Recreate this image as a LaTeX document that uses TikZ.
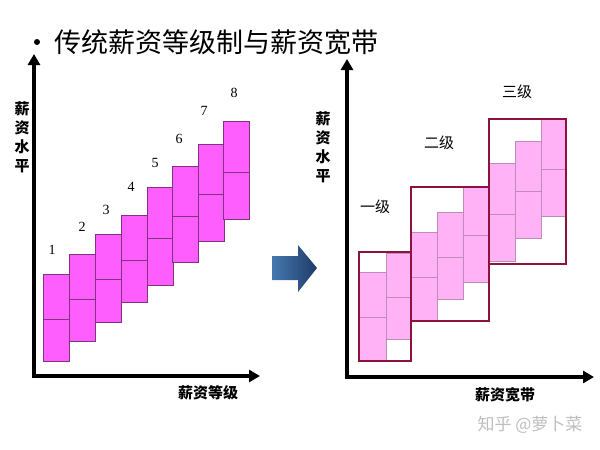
\documentclass[tikz,border=0pt]{standalone}
\usepackage{fontspec}
\newfontfamily\cjk{Noto Sans CJK SC}
\setmainfont{Liberation Serif}
\usetikzlibrary{arrows.meta}
\definecolor{lmag}{RGB}{255,94,255}
\definecolor{lmagb}{RGB}{130,50,130}
\definecolor{rpink}{RGB}{255,178,245}
\definecolor{rpinkb}{RGB}{190,140,185}
\definecolor{bandc}{RGB}{140,20,60}
\definecolor{wm}{RGB}{190,190,190}
\tikzset{
  axisline/.style={line width=3.6pt,-{Triangle[length=11pt,width=12pt]}},
  lcell/.style={fill=lmag,draw=lmagb,line width=0.7pt},
  rcell/.style={fill=rpink,draw=rpinkb,line width=0.7pt},
  band/.style={draw=bandc,line width=2pt},
  num/.style={font=\fontsize{14}{14}\selectfont,inner sep=0pt},
  lab/.style={font=\cjk\bfseries\fontsize{15}{15}\selectfont,inner sep=0pt},
  vlab/.style={font=\cjk\bfseries\fontsize{15}{19}\selectfont,inner sep=0pt,align=center},
}
\begin{document}
\begin{tikzpicture}[x=1pt,y=-1pt]
\useasboundingbox (0,0) rectangle (600,450);
% title
\fill (37,42) circle (3pt);
\node[anchor=west,inner sep=0pt,font=\cjk\fontsize{27}{27}\selectfont] (title) at (54,42) {传统薪资等级制与薪资宽带};
% left chart cells
\foreach \x/\t/\m/\b in {43/274/319/361,69/254/299/341,95/234/279/322,121/215/260/302,147/187/238/285,172/166/216/262,198/144/194/241,223/121/172/219}{
  \draw[lcell] (\x,\t) rectangle ++(26,\m-\t);
  \draw[lcell] (\x,\m) rectangle ++(26,\b-\m);
}
\foreach \n/\x/\y in {1/52/250,2/82/227,3/106/210,4/131/187,5/155/163,6/179/139,7/204/111,8/234/93}{
  \node[num] (n\n) at (\x,\y) {\n};
}
% left axes
\coordinate (lo) at (34,376);
\coordinate (ly) at (34,54);
\coordinate (lx) at (260,376);
\draw[axisline] ([yshift=-1.8pt]lo) -- (ly);
\draw[axisline] ([xshift=-1.8pt]lo) -- (lx);
\node[vlab] (lyl) at (22,137) {薪\\资\\水\\平};
\node[lab] (lxl) at (208,393) {薪资等级};
% middle arrow
\shade[left color={rgb,255:red,70;green,120;blue,175},right color={rgb,255:red,30;green,60;blue,105}]
 (272,256) -- (298,256) -- (298,245) -- (317,268) -- (298,292) -- (298,280) -- (272,280) -- cycle;
% right chart cells
\foreach \x/\w/\t/\m/\b in {359/27/272/317/361,386/25/253/297/339,411/26/232/277/321,437/26/212/257/299,463/26/187/235/282,489/26/163/214/261,515/26/141/191/238,541/25/119/169/216}{
  \draw[rcell] (\x,\t) rectangle ++(\w,\m-\t);
  \draw[rcell] (\x,\m) rectangle ++(\w,\b-\m);
}
\draw[band] (359,252) rectangle (411,361);
\draw[band] (411,187) rectangle (489,321);
\draw[band] (489,119) rectangle (566,264);
\node[lab,font=\cjk\fontsize{15}{15}\selectfont] (g1) at (375,207) {一级};
\node[lab,font=\cjk\fontsize{15}{15}\selectfont] (g2) at (439,143) {二级};
\node[lab,font=\cjk\fontsize{15}{15}\selectfont] (g3) at (517,92) {三级};
% right axes
\coordinate (ro) at (347,377);
\coordinate (ry) at (347,59);
\coordinate (rx) at (594,377);
\draw[axisline] ([yshift=-1.8pt]ro) -- (ry);
\draw[axisline] ([xshift=-1.8pt]ro) -- (rx);
\node[vlab] (ryl) at (323,147) {薪\\资\\水\\平};
\node[lab] (rxl) at (505,395) {薪资宽带};
% watermark
\node[inner sep=0pt,text=wm,font=\cjk\fontsize{17}{17}\selectfont] (wmk) at (530,425) {知乎 @萝卜菜};
\end{tikzpicture}
\end{document}
